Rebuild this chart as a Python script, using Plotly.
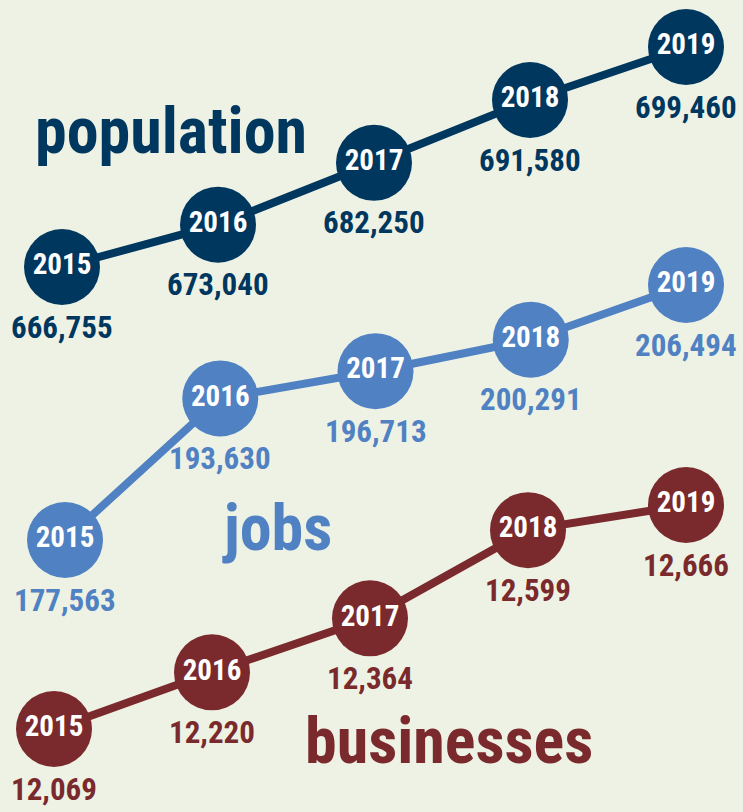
import plotly.graph_objects as go

years = [2015, 2016, 2017, 2018, 2019]
population = [666755, 673040, 682250, 691580, 699460]
jobs = [177563, 193630, 196713, 200291, 206494]
businesses = [12069, 12220, 12364, 12599, 12666]

W, H = 743, 812
FONT = "Roboto Condensed, Liberation Sans Narrow, DejaVu Sans Condensed, Arial Narrow, sans-serif"
BG = "#EEF2E4"

series = [
    dict(name="population", vals=population, color="#00375F",
         xpix=(62, 686), ypix=(267, 47), title_xy=(171, 131)),
    dict(name="jobs", vals=jobs, color="#4F81C3",
         xpix=(65, 686), ypix=(540, 285), title_xy=(277, 528)),
    dict(name="businesses", vals=businesses, color="#7A2A2C",
         xpix=(54, 686), ypix=(729, 505), title_xy=(449, 741)),
]


def axis_range(v0, v1, p0, p1, total, flip=False):
    # returns axis range so that v0 sits at pixel p0 and v1 at pixel p1
    f0, f1 = (p0 / total, p1 / total) if not flip else (1 - p0 / total, 1 - p1 / total)
    per = (f1 - f0) / (v1 - v0)
    r0 = v0 - f0 / per
    r1 = r0 + 1 / per
    return [r0, r1]


fig = go.Figure()
annotations = []
layout_axes = {}

for i, s in enumerate(series):
    idx = "" if i == 0 else str(i + 1)
    xa, ya = "x" + idx, "y" + idx
    vals = s["vals"]
    fig.add_trace(go.Scatter(
        x=years, y=vals, xaxis=xa, yaxis=ya, mode="lines+markers+text",
        line=dict(color=s["color"], width=8),
        marker=dict(size=76, color=s["color"]),
        text=[str(y) for y in years], textposition="middle center",
        textfont=dict(family=FONT, size=29, color="white", weight="bold"),
        hoverinfo="skip", showlegend=False, cliponaxis=False,
    ))
    for yr, v in zip(years, vals):
        annotations.append(dict(
            x=yr, y=v, xref=xa, yref=ya, text=f"{v:,}", showarrow=False,
            xanchor="center", yanchor="middle",
            yshift=-60, font=dict(family=FONT, size=31, color=s["color"], weight="bold"),
        ))
    tx, ty = s["title_xy"]
    annotations.append(dict(
        x=tx / W, y=1 - ty / H, xref="paper", yref="paper", text=s["name"],
        xanchor="center", yanchor="middle",
        showarrow=False, font=dict(family=FONT, size=64, color=s["color"], weight="bold"),
    ))
    xr = axis_range(years[0], years[-1], s["xpix"][0], s["xpix"][1], W)
    yr_ = axis_range(vals[0], vals[-1], s["ypix"][0], s["ypix"][1], H, flip=True)
    axkw = dict(visible=False, showgrid=False, zeroline=False, fixedrange=True)
    layout_axes["xaxis" + idx] = dict(range=xr, domain=[0, 1], anchor=ya,
                                      **({} if i == 0 else dict(overlaying="x")), **axkw)
    layout_axes["yaxis" + idx] = dict(range=yr_, domain=[0, 1], anchor=xa,
                                      **({} if i == 0 else dict(overlaying="y")), **axkw)

fig.update_layout(
    width=W, height=H, margin=dict(l=0, r=0, t=0, b=0),
    paper_bgcolor=BG, plot_bgcolor=BG, annotations=annotations,
    **layout_axes,
)

fig.write_html(
    "out.html",
    config={"displayModeBar": False},
    post_script="document.body.style.margin='0';document.body.style.background='%s';" % BG,
)
